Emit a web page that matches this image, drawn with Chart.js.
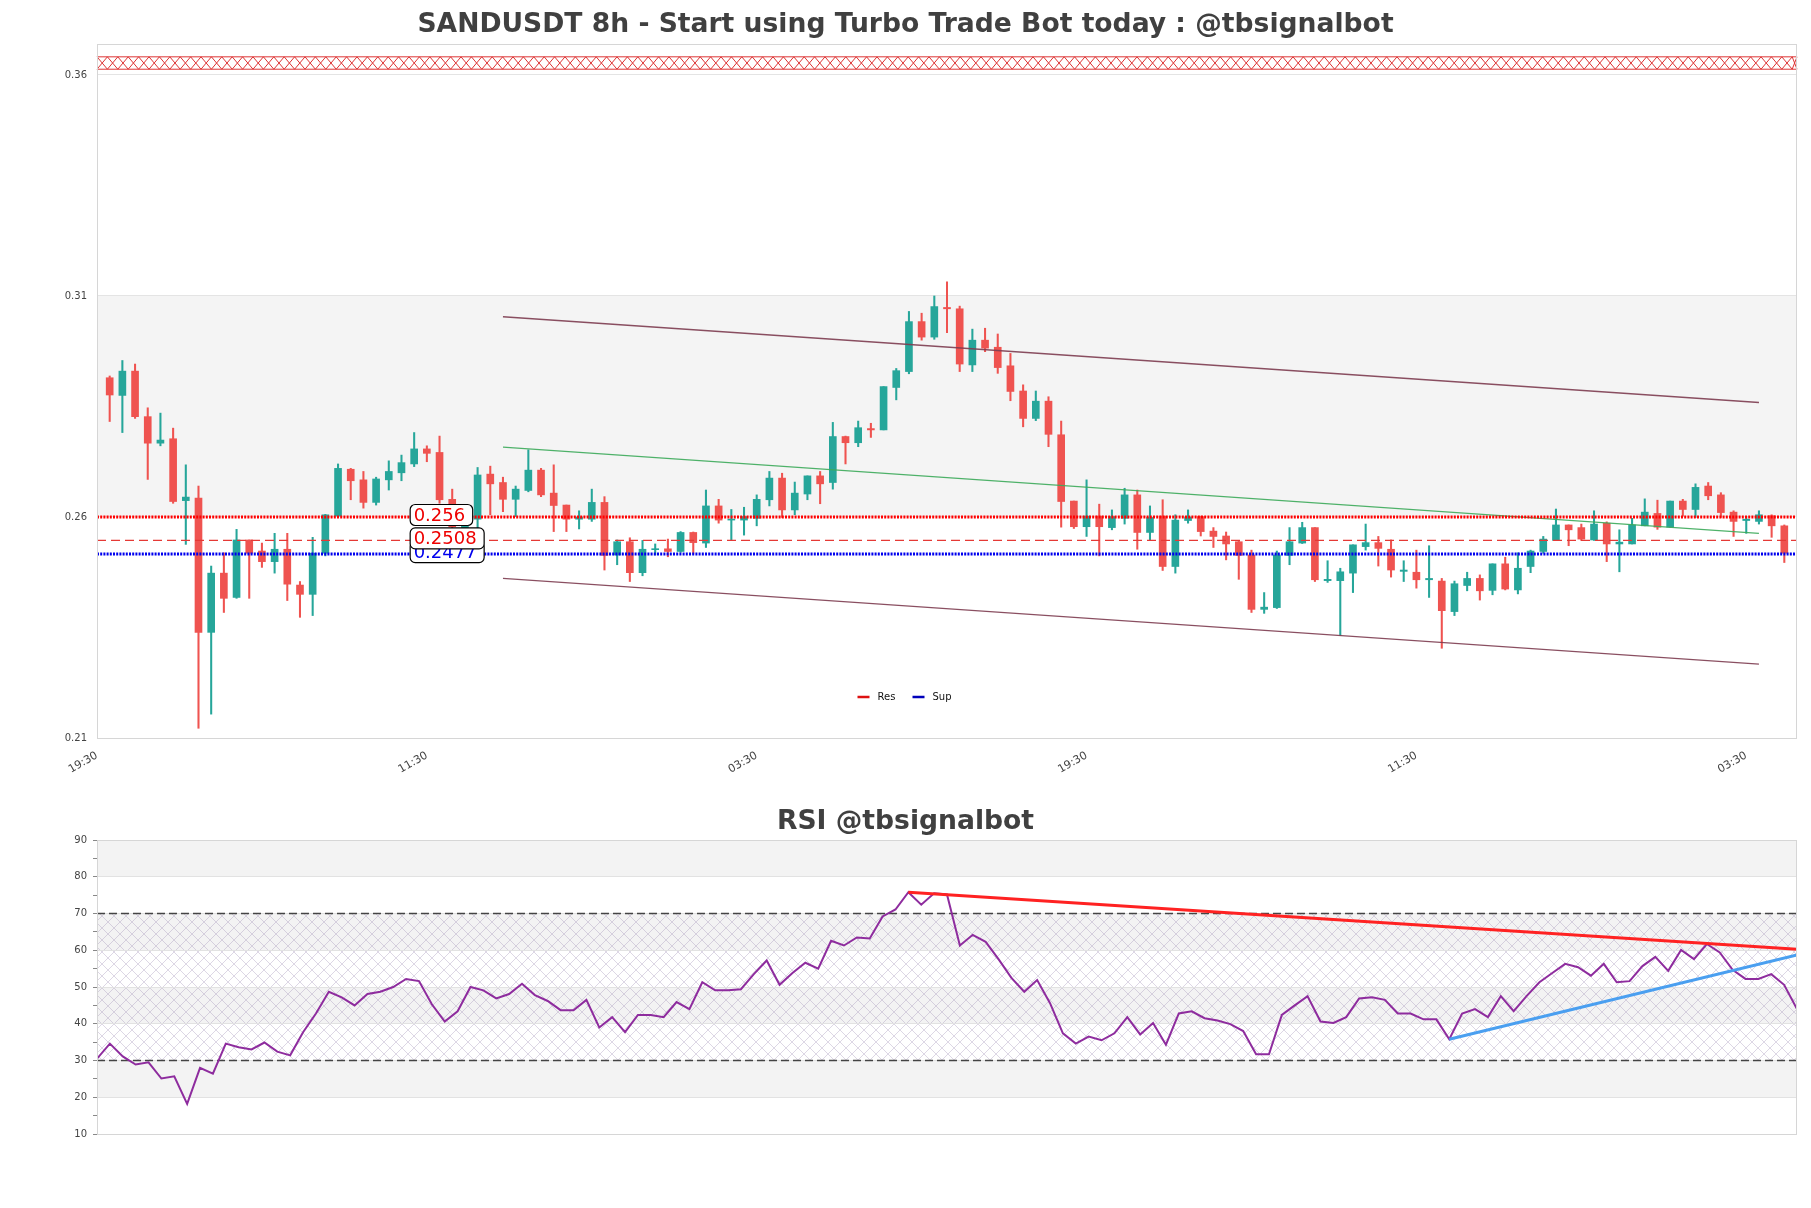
<!DOCTYPE html>
<html><head><meta charset="utf-8">
<script src="https://cdn.jsdelivr.net/npm/chart.js@4.4.0/dist/chart.umd.min.js"></script>
<style>
html,body{margin:0;padding:0;background:#fff;width:1811px;height:1208px;overflow:hidden}
#w1{position:absolute;left:0;top:0;width:1811px;height:790px}
#w2{position:absolute;left:0;top:790px;width:1811px;height:418px}
</style></head><body>
<div id="w1"><canvas id="c1" width="1811" height="790"></canvas></div>
<div id="w2"><canvas id="c2" width="1811" height="418"></canvas></div>
<script>
// ---------- DATA ----------
const opens  = [.2915,.2875,.2930,.2827,.2767,.2777,.2637,.2643,.2339,.2473,.2418,.2548,.2523,.2499,.2527,.2446,.2425,.2518,.2602,.2708,
.2684,.2633,.2684,.2700,.2720,.2754,.2746,.2640,.2560,.2595,.2697,.2678,.2640,.2660,.2706,.2654,.2627,.2595,.2595,.2633,
.2514,.2544,.2474,.2526,.2528,.2522,.2565,.2541,.2625,.2593,.2593,.2597,.2639,.2688,.2616,.2652,.2693,.2678,.2782,.2768,
.2800,.2797,.2893,.2929,.3042,.3007,.3074,.3071,.2944,.3000,.2984,.2942,.2885,.2823,.2862,.2786,.2636,.2578,.2602,.2576,
.2597,.2650,.2565,.2602,.2488,.2592,.2601,.2568,.2557,.2544,.2514,.2391,.2395,.2513,.2541,.2576,.2456,.2456,.2473,.2533,
.2542,.2527,.2477,.2475,.2458,.2455,.2386,.2445,.2461,.2434,.2494,.2435,.2488,.2522,.2547,.2582,.2576,.2548,.2586,.2539,
.2539,.2580,.2608,.2577,.2636,.2617,.2670,.2650,.2611,.2592,.2590,.2603,.2580];
const highs  = [.2919,.2954,.2946,.2847,.2835,.2801,.2718,.2670,.2489,.2519,.2572,.2548,.2541,.2563,.2563,.2454,.2554,.2606,.2720,.2710,
.2703,.2690,.2727,.2740,.2791,.2761,.2783,.2663,.2586,.2712,.2715,.2690,.2670,.2752,.2710,.2718,.2627,.2614,.2663,.2646,
.2548,.2553,.2547,.2539,.2550,.2567,.2566,.2661,.2640,.2617,.2622,.2650,.2703,.2699,.2679,.2693,.2703,.2814,.2783,.2817,
.2812,.2895,.2936,.3065,.3061,.3100,.3132,.3077,.3025,.3027,.3014,.2970,.2899,.2885,.2872,.2817,.2636,.2684,.2629,.2616,
.2665,.2661,.2625,.2639,.2605,.2616,.2602,.2576,.2566,.2546,.2525,.2429,.2523,.2576,.2588,.2576,.2501,.2484,.2537,.2584,
.2556,.2548,.2501,.2525,.2535,.2461,.2455,.2475,.2469,.2494,.2509,.2519,.2525,.2556,.2618,.2582,.2584,.2614,.2589,.2571,
.2597,.2641,.2638,.2636,.2640,.2675,.2678,.2655,.2614,.2601,.2614,.2605,.2582];
const lows   = [.2816,.2791,.2823,.2685,.2761,.2631,.2538,.2122,.2154,.2384,.2416,.2416,.2486,.2473,.2411,.2373,.2377,.2512,.2601,.2639,
.2620,.2627,.2661,.2682,.2714,.2725,.2631,.2575,.2548,.2574,.2605,.2612,.2601,.2657,.2646,.2567,.2567,.2573,.2590,.2480,
.2492,.2454,.2467,.2514,.2510,.2520,.2516,.2531,.2586,.2547,.2559,.2580,.2625,.2599,.2605,.2639,.2630,.2663,.2720,.2759,
.2780,.2797,.2865,.2924,.3000,.3002,.3017,.2929,.2929,.2974,.2925,.2863,.2804,.2818,.2759,.2577,.2574,.2556,.2512,.2571,
.2584,.2527,.2548,.2479,.2473,.2586,.2557,.2531,.2503,.2459,.2384,.2382,.2393,.2492,.2540,.2454,.2452,.2332,.2429,.2525,
.2489,.2464,.2454,.2439,.2418,.2303,.2377,.2433,.2412,.2424,.2435,.2426,.2474,.2518,.2547,.2535,.2547,.2547,.2499,.2476,
.2539,.2580,.2572,.2577,.2602,.2599,.2639,.2599,.2556,.2563,.2584,.2554,.2497];
const closes = [.2876,.2930,.2827,.2767,.2774,.2635,.2645,.2339,.2473,.2416,.2548,.2518,.2499,.2527,.2448,.2425,.2518,.2605,.2710,.2682,
.2633,.2686,.2703,.2723,.2754,.2744,.2639,.2578,.2582,.2695,.2675,.2640,.2663,.2706,.2650,.2626,.2595,.2600,.2633,.2513,
.2544,.2474,.2527,.2528,.2522,.2565,.2542,.2625,.2593,.2595,.2601,.2640,.2688,.2616,.2654,.2693,.2675,.2782,.2768,.2802,
.2797,.2895,.2931,.3042,.3007,.3076,.3071,.2946,.3000,.2982,.2938,.2884,.2823,.2862,.2787,.2635,.2578,.2602,.2578,.2601,
.2650,.2565,.2599,.2488,.2593,.2600,.2567,.2556,.2539,.2513,.2391,.2396,.2514,.2544,.2576,.2458,.2459,.2476,.2537,.2542,
.2529,.2480,.2480,.2458,.2461,.2388,.2449,.2461,.2433,.2494,.2437,.2484,.2523,.2550,.2582,.2571,.2550,.2584,.2539,.2543,
.2582,.2611,.2577,.2636,.2617,.2667,.2648,.2610,.2590,.2595,.2605,.2580,.2518];
const rsiValues = [30.5,34.6,31.1,28.9,29.5,25.1,25.7,18.2,28.0,26.4,
34.6,33.6,33.0,34.9,32.4,31.4,37.7,42.8,48.7,47.2,
45.0,48.1,48.7,50.0,52.2,51.6,45.3,40.6,43.4,50.0,
49.1,46.9,48.1,50.9,47.8,46.2,43.7,43.7,46.5,39.0,
41.8,37.7,42.4,42.4,41.8,45.9,44.0,51.3,49.1,49.1,
49.4,53.5,57.2,50.6,53.8,56.6,55.0,62.6,61.3,63.5,
63.2,69.2,71.1,75.8,72.4,75.5,75.2,61.3,64.2,62.3,
57.6,52.5,48.7,51.9,45.6,37.4,34.6,36.5,35.5,37.4,
41.8,37.1,40.2,34.3,42.8,43.4,41.5,40.9,39.9,38.0,
31.7,31.7,42.4,45.0,47.5,40.6,40.2,41.8,46.9,47.2,
46.5,42.8,42.8,41.2,41.2,35.8,42.8,44.0,41.8,47.5,
43.4,47.5,51.3,53.8,56.3,55.4,53.1,56.3,51.3,51.6,
55.7,58.2,54.4,60.1,57.6,61.7,59.4,54.7,52.2,52.2,
53.5,50.6,44.0];
const xTickIndex = [-1,25,51,77,103,129];
const xTickLabels = ["19:30","11:30","03:30","19:30","11:30","03:30"];
const priceTicks = [0.21,0.26,0.31,0.36];
const levelValues = [0.2600,0.2547,0.2516];
const levelLabels = ["0.256","0.2508","0.2477"];
const channelX = [31,130];
const channelUpper = [0.3053,0.2859];
const channelLower = [0.2461,0.2267];
const trendGreen = [0.2758,0.2563];
const rsiResX = [63,132], rsiResY = [75.8,60.3];
const rsiSupX = [105,132], rsiSupY = [35.8,58.7];
const grayZone = [0.26,0.31];
const hatchZone = [0.3613,0.3641];

// ---------- SETUP ----------
Chart.defaults.font.family = "'DejaVu Sans', sans-serif";
Chart.defaults.color = '#444';
const UP='#26a69a', DN='#ef5350';
const idx = closes.map((_,i)=>i);
const cols = idx.map(i => closes[i] >= opens[i] ? UP : DN);

const bgPlugin1 = {
  id:'bg1',
  beforeDraw(chart){
    const {ctx, chartArea:a, scales:{y}} = chart;
    ctx.save();
    ctx.fillStyle = '#f4f4f4';
    const y1 = y.getPixelForValue(grayZone[1]), y2 = y.getPixelForValue(grayZone[0]);
    ctx.fillRect(a.left, y1, a.right-a.left, y2-y1);
    const t = y.getPixelForValue(hatchZone[1]), b = y.getPixelForValue(hatchZone[0]);
    ctx.strokeStyle = '#dd3333'; ctx.lineWidth = 1;
    ctx.beginPath();
    ctx.moveTo(a.left,t); ctx.lineTo(a.right,t);
    ctx.moveTo(a.left,b); ctx.lineTo(a.right,b);
    const step = 10.4;
    for (let x=a.left; x < a.right-1; x+=step){
      const xe = Math.min(x+step, a.right);
      ctx.moveTo(x,t); ctx.lineTo(xe,b);
      ctx.moveTo(xe,t); ctx.lineTo(x,b);
    }
    ctx.stroke();
    ctx.restore();
  },
  afterDatasetsDraw(chart){
    const {ctx, chartArea:a, scales:{x,y}} = chart;
    ctx.save();
    ctx.font = "18px 'DejaVu Sans'";
    ctx.textBaseline = 'middle';
    const order = [2,1,0];
    const lcol = ['#ee0000','#ee0000','#0000ee'];
    order.forEach(k=>{
      const yp = y.getPixelForValue(levelValues[k]) - 2;
      const xl = x.getPixelForValue(24) - 4;
      const tw = ctx.measureText(levelLabels[k]).width;
      ctx.beginPath();
      ctx.roundRect(xl, yp-10.5, tw+11, 21, 5);
      ctx.fillStyle = '#fff'; ctx.fill();
      ctx.strokeStyle = '#000'; ctx.lineWidth = 1.2; ctx.stroke();
      ctx.fillStyle = lcol[k];
      ctx.fillText(levelLabels[k], xl+3.5, yp+1);
    });
    ctx.strokeStyle = '#d6d6d6'; ctx.lineWidth = 1;
    ctx.strokeRect(a.left+0.5, a.top+0.5, a.right-a.left-1, a.bottom-a.top);
    const cx = chart.width/2, ly = a.bottom - 41;
    ctx.font = "10px 'DejaVu Sans'";
    ctx.textBaseline = 'middle';
    ctx.lineWidth = 2.5;
    ctx.strokeStyle = '#dd1111';
    ctx.beginPath(); ctx.moveTo(cx-48, ly); ctx.lineTo(cx-36, ly); ctx.stroke();
    ctx.fillStyle = '#111'; ctx.fillText('Res', cx-28, ly);
    ctx.strokeStyle = '#0000bb';
    ctx.beginPath(); ctx.moveTo(cx+7, ly); ctx.lineTo(cx+19, ly); ctx.stroke();
    ctx.fillText('Sup', cx+27, ly);
    ctx.restore();
  }
};

const hLine = (v, color, w, dash) => ({
  type:'line', data:[{x:-1,y:v},{x:133,y:v}], borderColor:color, borderWidth:w,
  borderDash:dash, pointRadius:0, order:1
});
const seg = (xs, ys, color, w, ord) => ({
  type:'line', data:[{x:xs[0],y:ys[0]},{x:xs[1],y:ys[1]}], borderColor:color, borderWidth:w,
  pointRadius:0, order:ord
});

new Chart(document.getElementById('c1'), {
  type:'bar',
  data:{ datasets:[
    { type:'bar', data: idx.map(i=>({x:i, y:[lows[i], highs[i]]})), backgroundColor: cols,
      barThickness:1.4, grouped:false, order:10 },
    { type:'bar', data: idx.map(i=>({x:i, y:[opens[i], closes[i]]})), backgroundColor: cols,
      barThickness:7, grouped:false, minBarLength:1, order:9 },
    seg(channelX, channelUpper, 'rgba(125,60,80,0.9)', 1.3, 5),
    seg(channelX, channelLower, 'rgba(125,60,80,0.9)', 1.3, 5),
    seg(channelX, trendGreen, 'rgba(60,170,90,0.9)', 1.1, 5),
    hLine(levelValues[0], '#ff0000', 3, [2,1.2]),
    hLine(levelValues[1], '#e53935', 1.4, [9,5]),
    hLine(levelValues[2], '#0000ee', 3, [2,1.2])
  ]},
  options:{
    responsive:false, animation:false, devicePixelRatio:1,
    layout:{ padding:{left:14,right:14,top:0,bottom:0} },
    plugins:{
      legend:{display:false}, tooltip:{enabled:false},
      title:{ display:true, text:'SANDUSDT 8h - Start using Turbo Trade Bot today : @tbsignalbot',
        color:'#404040', font:{size:26.6, weight:'bold', family:"'DejaVu Sans'"}, padding:{top:9.5,bottom:2.6} }
    },
    scales:{
      x:{ type:'linear', min:-1, max:133, offset:false,
        grid:{display:false}, border:{display:false},
        afterBuildTicks: s => { s.ticks = xTickIndex.map(v=>({value:v})); },
        afterFit: s => { s.height = 52; },
        ticks:{ autoSkip:false, maxRotation:30, minRotation:30, color:'#444', font:{size:11},
          callback:(v,i)=> xTickLabels[i] }
      },
      y:{ type:'linear', min:0.21, max:0.367,
        grid:{ color:'#e4e4e4', drawTicks:false }, border:{display:false},
        afterBuildTicks: s => { s.ticks = priceTicks.map(v=>({value:v})); },
        afterFit: s => { s.width = 83; },
        ticks:{ padding:10, color:'#444', font:{size:10}, callback: v => String(+v.toFixed(2)) }
      }
    }
  },
  plugins:[bgPlugin1]
});

// ---------- RSI ----------
const hatchCanvas = document.createElement('canvas');
hatchCanvas.width = 12; hatchCanvas.height = 12;
{
  const h = hatchCanvas.getContext('2d');
  h.strokeStyle = 'rgba(150,130,175,0.32)'; h.lineWidth = 1;
  h.beginPath(); h.moveTo(0,0); h.lineTo(12,12); h.moveTo(12,0); h.lineTo(0,12); h.stroke();
}
const rsiBands = [[80,90],[60,70],[40,50],[20,30]];
const rsiHatch = [30,70];
const bgPlugin2 = {
  id:'bg2',
  beforeDraw(chart){
    const {ctx, chartArea:a, scales:{y}} = chart;
    ctx.save();
    ctx.fillStyle = '#f3f3f3';
    rsiBands.forEach(([lo,hi])=>{
      const t=y.getPixelForValue(hi), b=y.getPixelForValue(lo);
      ctx.fillRect(a.left, t, a.right-a.left, b-t);
    });
    const t=y.getPixelForValue(rsiHatch[1]), b=y.getPixelForValue(rsiHatch[0]);
    ctx.fillStyle = ctx.createPattern(hatchCanvas,'repeat');
    ctx.fillRect(a.left, t, a.right-a.left, b-t);
    ctx.restore();
  },
  afterDatasetsDraw(chart){
    const {ctx, chartArea:a} = chart;
    ctx.save();
    ctx.strokeStyle = '#d6d6d6'; ctx.lineWidth = 1;
    ctx.strokeRect(a.left+0.5, a.top+0.5, a.right-a.left-1, a.bottom-a.top);
    ctx.restore();
  }
};
const rsiLine = (v) => ({ type:'line', data:[{x:0,y:v},{x:132,y:v}], borderColor:'#444',
  borderWidth:1.3, borderDash:[8,4], pointRadius:0, order:6 });

new Chart(document.getElementById('c2'), {
  type:'line',
  data:{ datasets:[
    rsiLine(70), rsiLine(30),
    { data: rsiValues.map((v,i)=>({x:i,y:v})), borderColor:'#8e2c9e', borderWidth:2, pointRadius:0, tension:0, order:3 },
    seg(rsiResX, rsiResY, '#ff2222', 3, 1),
    seg(rsiSupX, rsiSupY, '#4a9ff0', 3, 1)
  ]},
  options:{
    responsive:false, animation:false, devicePixelRatio:1,
    layout:{ padding:{left:14,right:14,top:0,bottom:74} },
    plugins:{
      legend:{display:false}, tooltip:{enabled:false},
      title:{ display:true, text:'RSI @tbsignalbot', color:'#404040',
        font:{size:26.6, weight:'bold', family:"'DejaVu Sans'"}, padding:{top:16,bottom:2.1} }
    },
    scales:{
      x:{ type:'linear', min:0, max:132, display:false },
      y:{ type:'linear', min:10, max:90,
        border:{display:false},
        grid:{ color: c => (c.tick && c.tick.value % 10 === 0) ? '#e2e2e2' : 'rgba(0,0,0,0)',
               tickColor:'#888', tickLength:4, drawTicks:true },
        afterFit: s => { s.width = 83; },
        ticks:{ stepSize:5, padding:6, color:'#444', font:{size:10},
          callback: v => (v % 10 === 0 ? String(v) : '') }
      }
    }
  },
  plugins:[bgPlugin2]
});
</script>
</body></html>
